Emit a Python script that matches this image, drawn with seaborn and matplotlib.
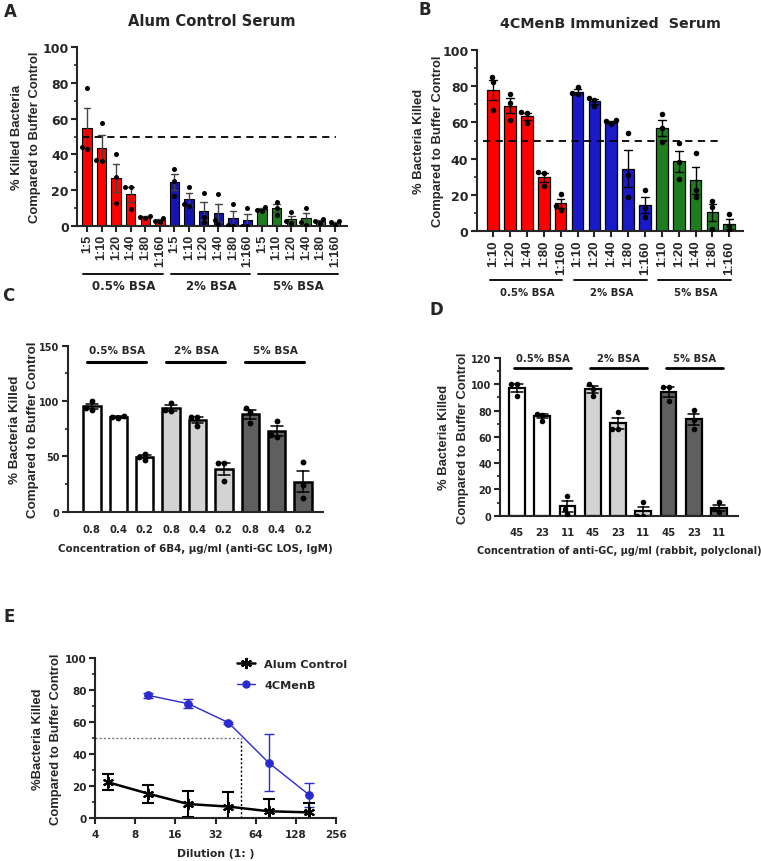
import matplotlib
matplotlib.use("Agg")
import matplotlib.pyplot as plt
import matplotlib.transforms as mtransforms
from matplotlib.ticker import MultipleLocator, FixedLocator, NullLocator
from matplotlib.lines import Line2D
import numpy as np
import pandas as pd
import seaborn as sns

# ---------------- data ----------------
bsa_groups = ["0.5% BSA", "2% BSA", "5% BSA"]

# Panel A: Alum control serum (replicates, % killed)
a_dilutions = ["1:5", "1:10", "1:20", "1:40", "1:80", "1:160"]
a_bsa05 = [[77, 44, 43], [57.5, 37, 36.5], [40.4, 27.3, 12.8], [21.8, 21.8, 9.4], [5.5, 5, 4.5], [4.3, 2.5, 2]]
a_bsa2 = [[32, 25, 16.5], [21.8, 12, 11], [18.4, 5, 2], [17.5, 3, 1], [12.4, 0.5, 0], [10, 0, 0]]
a_bsa5 = [[10.3, 9, 8], [13.3, 10, 6.2], [7.5, 2.4, 1.5], [10, 1.9, 0.4], [4, 2.4, 1.5], [2.4, 1.9, 0.4]]

# Panel B: 4CMenB immunized serum
b_dilutions = ["1:10", "1:20", "1:40", "1:80", "1:160"]
b_bsa05 = [[85, 82, 67], [75.6, 70.9, 61.1], [65.5, 65, 59.5], [32.4, 31.9, 25], [20.4, 13.9, 12]]
b_bsa2 = [[79.3, 75.9, 75.5], [73.5, 72.5, 69], [61.1, 60.7, 59.3], [54, 31, 18.7], [22.6, 13, 7.8]]
b_bsa5 = [[64.8, 56.9, 49], [48.5, 38.3, 28.7], [43, 22.8, 18.7], [16.9, 13.2, 1.3], [9.5, 3.1, 0]]

# Panel C: 6B4 (anti-GC LOS IgM), ug/ml
c_conc = ["0.8", "0.4", "0.2"]
c_bsa05 = [[92, 100, 94], [85.6, 86.5, 84.7], [52.5, 47, 49.5]]
c_bsa2 = [[98.5, 90.7, 91.6], [85.6, 85.6, 77.2], [43.8, 43.8, 27.6]]
c_bsa5 = [[94, 90, 80.2], [82.3, 69, 67.6], [45, 24, 12]]

# Panel D: anti-GC rabbit polyclonal, ug/ml
d_conc = ["45", "23", "11"]
d_bsa05 = [[100, 100, 91.4], [77.7, 76.7, 72.4], [15.2, 5, 1.3]]
d_bsa2 = [[100, 96.7, 91.4], [78.7, 66, 66], [10.1, 0, 0]]
d_bsa5 = [[97.7, 97.7, 87], [80.8, 73.2, 66], [10.1, 5, 2.5]]

# Panel E: mean +/- SD vs dilution (1: x)
e_alum_dil = [5, 10, 20, 40, 80, 160]
e_alum_mean = [22.5, 15.4, 8.9, 7.3, 4.4, 3.7]
e_alum_sd = [4.9, 5.6, 8.4, 9.3, 7.5, 5.7]
e_men_dil = [10, 20, 40, 80, 160]
e_men_mean = [76.7, 71.5, 59.7, 34.7, 14.8]
e_men_sd = [1.7, 2.9, 0.6, 17.9, 7.5]
e_xticks = [4, 8, 16, 32, 64, 128, 256]

# ---------------- style ----------------
sns.set_theme(style="ticks")
plt.rcParams["font.family"] = ["DejaVu Sans"]
plt.rcParams["font.weight"] = "bold"
plt.rcParams["axes.labelweight"] = "bold"
plt.rcParams["axes.linewidth"] = 1.5
NARROW = ["Liberation Sans", "DejaVu Sans"]

W, H = 761, 862
fig = plt.figure(figsize=(W / 100, H / 100), dpi=100)


def px_axes(x0, x1, ytop, ybot):
    return fig.add_axes([x0 / W, 1 - ybot / H, (x1 - x0) / W, (ybot - ytop) / H])


def build_df(labels, reps_list):
    rows = []
    for g, reps in zip(bsa_groups, reps_list):
        for lab, vals in zip(labels, reps):
            for v in vals:
                rows.append({"group": g, "label": lab, "key": f"{g} {lab}", "value": v})
    return pd.DataFrame(rows)


def bar_panel(ax, labels, reps_list, colors, width, edge_lw, err_color, err_lw,
              capsize, dot_size):
    df = build_df(labels, reps_list)
    order = [f"{g} {l}" for g in bsa_groups for l in labels]
    pal = {f"{g} {l}": c for g, c in zip(bsa_groups, colors) for l in labels}
    sns.barplot(data=df, x="key", y="value", hue="key", order=order, hue_order=order,
                palette=pal, errorbar="se", capsize=capsize, width=width,
                edgecolor="black", linewidth=edge_lw, saturation=1, legend=False,
                err_kws={"color": err_color, "linewidth": err_lw}, ax=ax)
    sns.swarmplot(data=df, x="key", y="value", order=order, color="black",
                  size=dot_size, ax=ax)
    ax.set_xticks(range(len(order)))
    ax.set_xticklabels(labels * len(bsa_groups))
    ax.set_xlabel("")
    sns.despine(ax=ax)
    return len(order)


def style_axis(ax, tick_fs):
    ax.tick_params(axis="both", which="major", length=4, width=1.5, labelsize=tick_fs,
                   direction="out", pad=2)
    ax.tick_params(axis="y", which="minor", length=2.5, width=1.2)
    for lab in ax.get_xticklabels() + ax.get_yticklabels():
        lab.set_fontweight("bold")


def ylab(ax, text, size, pad=1):
    ax.set_ylabel(text, fontsize=size, fontweight="bold", family=NARROW,
                  linespacing=1.7, labelpad=pad)


# ---------------- Panel A ----------------
axA = px_axes(77, 347, 48.3, 226.7)
bar_panel(axA, a_dilutions, [a_bsa05, a_bsa2, a_bsa5],
          ["#FF0000", "#1414B0", "#1E7D1E"], 0.65, 0.8, "#444444", 1.0, 0.45, 3.6)
axA.set_xlim(-0.68, 17.82)
axA.set_ylim(0, 100)
axA.yaxis.set_major_locator(MultipleLocator(20))
axA.yaxis.set_minor_locator(MultipleLocator(10))
style_axis(axA, 9)
axA.tick_params(axis="x", rotation=90)
for t in axA.get_xticklabels():
    t.set_fontfamily(NARROW)
    t.set_fontsize(9)
axA.axhline(50, xmin=0.018, xmax=0.96, color="black", lw=1.3, ls=(0, (4, 3)))
ylab(axA, "% Killed Bacteria\nCompared to Buffer Control", 9.4, pad=1)
axA.set_title("Alum Control Serum", fontsize=10.6, fontweight="bold", pad=16)
trA = mtransforms.blended_transform_factory(axA.transData, axA.transAxes)
for i, g in enumerate(bsa_groups):
    s, e = i * 6, i * 6 + 5
    axA.plot([s - 0.25, e + 0.2], [-0.27, -0.27], color="black", lw=1.3,
             transform=trA, clip_on=False)
    axA.text((s + e) / 2, -0.338, g, transform=trA, ha="center", va="center",
             fontsize=8.5, fontweight="bold")

# ---------------- Panel B ----------------
axB = px_axes(476.7, 743.3, 50.7, 232.3)
bar_panel(axB, b_dilutions, [b_bsa05, b_bsa2, b_bsa5],
          ["#FF0000", "#1A1AC8", "#1E7D1E"], 0.69, 0.9, "black", 1.0, 0.45, 4.0)
axB.set_xlim(-0.98, 14.83)
axB.set_ylim(0, 100)
axB.yaxis.set_major_locator(MultipleLocator(20))
axB.yaxis.set_minor_locator(MultipleLocator(10))
style_axis(axB, 9)
axB.tick_params(axis="x", rotation=90)
for t in axB.get_xticklabels():
    t.set_fontfamily(NARROW)
    t.set_fontsize(9.5)
axB.axhline(50, xmin=0.024, xmax=0.925, color="black", lw=1.3, ls=(0, (4, 3)))
ylab(axB, "% Bacteria Killed\nCompared to Buffer Control", 9.4, pad=-1)
axB.set_title("4CMenB Immunized  Serum", fontsize=10.3, fontweight="bold", pad=16)
trB = mtransforms.blended_transform_factory(axB.transData, axB.transAxes)
for i, g in enumerate(bsa_groups):
    s, e = i * 5, i * 5 + 4
    axB.plot([s - 0.2, e + 0.1], [-0.268, -0.268], color="black", lw=1.3,
             transform=trB, clip_on=False)
    axB.text((s + e) / 2, -0.336, g, transform=trB, ha="center", va="center",
             fontsize=7.3, fontweight="bold")

# ---------------- Panel C ----------------
axC = px_axes(68, 323, 346.7, 512.7)
bar_panel(axC, c_conc, [c_bsa05, c_bsa2, c_bsa5],
          ["#FFFFFF", "#D3D3D3", "#5F5F5F"], 0.66, 1.8, "black", 1.1, 0.45, 4.2)
axC.set_xlim(-0.91, 8.76)
axC.set_ylim(0, 150)
axC.yaxis.set_major_locator(MultipleLocator(50))
axC.yaxis.set_minor_locator(MultipleLocator(25))
style_axis(axC, 7)
axC.tick_params(axis="x", length=0, labelsize=7.3, pad=9)
ylab(axC, "% Bacteria Killed\nCompared to Buffer Control", 9.6, pad=0)
axC.set_xlabel("Concentration of 6B4, \u03bcg/ml (anti-GC LOS, IgM)", fontsize=7.4,
               fontweight="bold", labelpad=6)
for i, g in enumerate(bsa_groups):
    s, e = i * 3, i * 3 + 2
    axC.plot([s - 0.2, e + 0.05], [135.5, 135.5], color="black", lw=2.2, clip_on=False)
    axC.text((s + e) / 2 - 0.05, 146, g, ha="center", va="center", fontsize=7.5,
             fontweight="bold")

# ---------------- Panel D ----------------
axD = px_axes(500, 738, 359, 516.7)
bar_panel(axD, d_conc, [d_bsa05, d_bsa2, d_bsa5],
          ["#FFFFFF", "#D3D3D3", "#5F5F5F"], 0.62, 1.6, "black", 1.1, 0.45, 4.0)
axD.set_xlim(-0.67, 8.75)
axD.set_ylim(0, 120)
axD.yaxis.set_major_locator(MultipleLocator(20))
axD.yaxis.set_minor_locator(MultipleLocator(10))
style_axis(axD, 7)
axD.tick_params(axis="x", length=0, labelsize=7.3, pad=8)
ylab(axD, "% Bacteria Killed\nCompared to Buffer Control", 9.4, pad=2)
axD.set_xlabel("Concentration of anti-GC, \u03bcg/ml (rabbit, polyclonal)", fontsize=7,
               fontweight="bold", labelpad=6)
for i, g in enumerate(bsa_groups):
    s, e = i * 3, i * 3 + 2
    axD.plot([s - 0.1, e + 0.15], [112.4, 112.4], color="black", lw=2.0, clip_on=False)
    axD.text((s + e) / 2 + 0.02, 120, g, ha="center", va="center", fontsize=7.2,
             fontweight="bold")

# ---------------- Panel E ----------------
axE = px_axes(95, 336, 659, 819.3)
dfE = pd.concat([
    pd.DataFrame({"dil": e_alum_dil, "mean": e_alum_mean, "sd": e_alum_sd, "serum": "Alum Control"}),
    pd.DataFrame({"dil": e_men_dil, "mean": e_men_mean, "sd": e_men_sd, "serum": "4CMenB"}),
])
e_colors = {"Alum Control": "black", "4CMenB": "#2A2AD0"}
axE.set_xscale("log", base=2)
sub_m = dfE[dfE.serum == "4CMenB"]
sub_a = dfE[dfE.serum == "Alum Control"]
axE.plot([4, 50], [50, 50], color="#777777", lw=1.0, ls=(0, (1.5, 1.5)))
axE.plot([50, 50], [0, 50], color="black", lw=1.0, ls=(0, (1.5, 1.5)))
axE.errorbar(sub_m["dil"], sub_m["mean"], yerr=sub_m["sd"], fmt="none",
             ecolor=e_colors["4CMenB"], elinewidth=1.0, capsize=3.5, capthick=1.0)
axE.errorbar(sub_a["dil"], sub_a["mean"], yerr=sub_a["sd"], fmt="none",
             ecolor="black", elinewidth=1.5, capsize=4.5, capthick=1.5)
sns.lineplot(data=sub_m, x="dil", y="mean", color=e_colors["4CMenB"], lw=1.0,
             marker="o", markersize=5.5, markeredgecolor=e_colors["4CMenB"], ax=axE)
sns.lineplot(data=sub_a, x="dil", y="mean", color="black", lw=1.8,
             marker=(6, 2, 0), markersize=8, markeredgewidth=1.5,
             markeredgecolor="black", ax=axE)
axE.set_xlim(4, 256)
axE.set_ylim(0, 100)
axE.xaxis.set_major_locator(FixedLocator(e_xticks))
axE.xaxis.set_minor_locator(NullLocator())
axE.set_xticklabels([str(v) for v in e_xticks])
axE.yaxis.set_major_locator(MultipleLocator(20))
axE.yaxis.set_minor_locator(MultipleLocator(10))
sns.despine(ax=axE)
style_axis(axE, 7.5)
axE.tick_params(axis="x", pad=4)
axE.set_xlabel("Dilution (1: )", fontsize=7.8, fontweight="bold", labelpad=6)
ylab(axE, "%Bacteria Killed\nCompared to Buffer Control", 9.4, pad=2)
handles = [
    Line2D([], [], color="black", lw=1.8, marker=(6, 2, 0), markersize=8,
           markeredgewidth=1.5, markeredgecolor="black"),
    Line2D([], [], color=e_colors["4CMenB"], lw=1.0, marker="o", markersize=5,
           markeredgecolor=e_colors["4CMenB"]),
]
axE.legend(handles, ["Alum Control", "4CMenB"], loc="upper right",
           bbox_to_anchor=(1.09, 1.06), frameon=False, handlelength=1.6,
           handletextpad=0.8, labelspacing=1.0, prop={"size": 8.1, "weight": "bold"})

# ---------------- panel letters ----------------
for lab, x, y in [("A", 10, 12), ("B", 425, 10), ("C", 8, 296), ("D", 436, 310), ("E", 9, 617)]:
    fig.text(x / W, 1 - y / H, lab, ha="center", va="center", fontsize=12,
             fontweight="bold")

fig.savefig("out.png", dpi=100)
